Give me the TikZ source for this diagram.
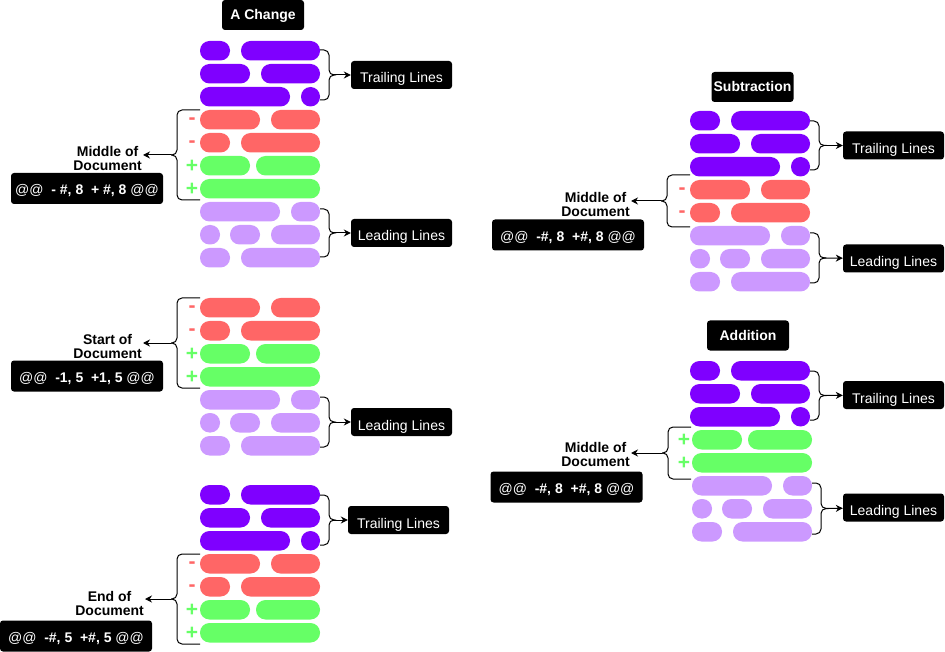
\documentclass[tikz,border=0pt]{standalone}
\usepackage{fontspec}
\setmainfont{Liberation Sans}
\usetikzlibrary{arrows.meta}
\definecolor{Trail}{HTML}{7F00FF}
\definecolor{Minus}{HTML}{FF6666}
\definecolor{Plus}{HTML}{66FF66}
\definecolor{Lead}{HTML}{CC99FF}
\tikzset{
  arr/.style={-{Stealth[length=7pt,width=7pt]},line width=1pt,draw=black},
  seg/.style={rounded corners=9.5pt},
  curl/.style={line width=1pt,rounded corners=5pt},
  titlebox/.style={fill=black,text=white,rounded corners=3pt,minimum width=82pt,minimum height=30pt,inner sep=0pt,text height=10pt,text depth=0pt,font=\fontsize{14}{14}\selectfont\bfseries},
  tagbox/.style={fill=black,text=white,rounded corners=3pt,minimum width=101pt,minimum height=28pt,inner sep=0pt,text height=16pt,text depth=0pt,font=\fontsize{14}{14}\selectfont},
  codebox/.style={fill=black,text=white,rounded corners=3pt,minimum width=152pt,minimum height=31pt,inner sep=0pt,text height=13pt,text depth=0pt,font=\fontsize{14}{14}\selectfont},
  where/.style={align=center,anchor=east,inner sep=1pt,font=\fontsize{14}{14}\selectfont\bfseries},
  sign/.style={inner sep=0pt,font=\fontsize{21}{21}\selectfont\bfseries}
}
\newcommand{\seg}[4]{\fill[seg,#1] (#2,#4) rectangle (#3,#4+19.5);}
\newcommand{\trailrows}[2]{%
  \seg{Trail}{#1}{#1+30}{#2}\seg{Trail}{#1+41}{#1+120}{#2}
  \seg{Trail}{#1}{#1+50}{#2+23}\seg{Trail}{#1+61}{#1+120}{#2+23}
  \seg{Trail}{#1}{#1+90}{#2+46}\seg{Trail}{#1+101}{#1+120}{#2+46}}
\newcommand{\minusrows}[3]{%
  \seg{Minus}{#2}{#2+60}{#3}\seg{Minus}{#2+71}{#2+120}{#3}
  \seg{Minus}{#2}{#2+30}{#3+23}\seg{Minus}{#2+41}{#2+120}{#3+23}
  \node[sign,text=Minus] (#1a) at (#2-8,#3+11) {-};
  \node[sign,text=Minus] (#1b) at (#2-8,#3+34) {-};}
\newcommand{\plusrows}[3]{%
  \seg{Plus}{#2}{#2+50}{#3}\seg{Plus}{#2+56}{#2+120}{#3}
  \seg{Plus}{#2}{#2+120}{#3+23}
  \node[sign,text=Plus] (#1a) at (#2-8,#3+10) {+};
  \node[sign,text=Plus] (#1b) at (#2-8,#3+33) {+};}
\newcommand{\leadrows}[2]{%
  \seg{Lead}{#1}{#1+80}{#2}\seg{Lead}{#1+91}{#1+120}{#2}
  \seg{Lead}{#1}{#1+20}{#2+23}\seg{Lead}{#1+30}{#1+60}{#2+23}\seg{Lead}{#1+71}{#1+120}{#2+23}
  \seg{Lead}{#1}{#1+30}{#2+46}\seg{Lead}{#1+41}{#1+120}{#2+46}}
\newcommand{\rightcurl}[4]{%
  \draw[curl] (#2,#3) -- (#2+9,#3) -- (#2+9,{(#3+#4)/2}) -- (#2+13,{(#3+#4)/2});
  \draw[curl] (#2,#4) -- (#2+9,#4) -- (#2+9,{(#3+#4)/2}) -- (#2+13,{(#3+#4)/2});
  \coordinate (#1) at (#2+13,{(#3+#4)/2});}
\newcommand{\leftcurl}[4]{%
  \draw[curl] (#2,#3) -- (#2-23,#3) -- (#2-23,{(#3+#4)/2}) -- (#2-29,{(#3+#4)/2});
  \draw[curl] (#2,#4) -- (#2-23,#4) -- (#2-23,{(#3+#4)/2}) -- (#2-29,{(#3+#4)/2});
  \coordinate (#1) at (#2-29,{(#3+#4)/2});}

\begin{document}
\begin{tikzpicture}[x=1pt,y=-1pt]
  \useasboundingbox (0,0) rectangle (945,652);

  \node[titlebox] (chg) at (263,15) {A Change};
  \trailrows{200}{41}
  \minusrows{chgm}{200}{110}
  \plusrows{chgp}{200}{156}
  \leadrows{200}{202}
  \rightcurl{chgtt}{320}{50}{100}
  \rightcurl{chglt}{320}{209}{257}
  \leftcurl{chgct}{200}{110}{200}
  \node[tagbox] (chgtrail) at (401.5,75) {Trailing Lines};
  \node[tagbox] (chglead) at (401.5,233) {Leading Lines};
  \node[where] (chgwhere) at (143,158) {Middle of\\Document};
  \node[codebox] (chgcode) at (87,188.5) {@@\ \ \textbf{- \#, 8\ \ + \#, 8} @@};
  \draw[arr] (chgtt) -- (chgtrail);
  \draw[arr] (chglt) -- (chglead);
  \draw[arr] (chgct) -- (chgwhere.east |- chgct);

  \minusrows{stm}{200}{298}
  \plusrows{stp}{200}{344}
  \leadrows{200}{390}
  \leftcurl{stct}{200}{298}{388}
  \rightcurl{stlt}{320}{397}{447}
  \node[tagbox] (stlead) at (401.5,422) {Leading Lines};
  \node[where] (stwhere) at (143,346) {Start of\\Document};
  \node[codebox] (stcode) at (87,376) {@@\ \ \textbf{-1, 5\ \ +1, 5} @@};
  \draw[arr] (stlt) -- (stlead);
  \draw[arr] (stct) -- (stwhere.east |- stct);

  \trailrows{200}{485}
  \minusrows{endm}{200}{554}
  \plusrows{endp}{200}{600}
  \rightcurl{endtt}{320}{495}{545}
  \leftcurl{endct}{200}{554}{644}
  \node[tagbox] (endtrail) at (398.5,520) {Trailing Lines};
  \node[where] (endwhere) at (145,603) {End of\\Document};
  \node[codebox] (endcode) at (76,636) {@@\ \ \textbf{-\#, 5\ \ +\#, 5} @@};
  \draw[arr] (endtt) -- (endtrail);
  \draw[arr] (endct) -- (endwhere.east |- endct);

  \node[titlebox] (sub) at (752.5,87) {Subtraction};
  \trailrows{690}{111}
  \minusrows{subm}{690}{180}
  \leadrows{690}{226}
  \rightcurl{subtt}{810}{121}{170}
  \rightcurl{sublt}{810}{233}{283}
  \leftcurl{subct}{690}{175}{227}
  \node[tagbox] (subtrail) at (893.5,145.5) {Trailing Lines};
  \node[tagbox] (sublead) at (893.5,258.5) {Leading Lines};
  \node[where] (subwhere) at (631,204) {Middle of\\Document};
  \node[codebox] (subcode) at (568,235) {@@\ \ \textbf{-\#, 8\ \ +\#, 8} @@};
  \draw[arr] (subtt) -- (subtrail);
  \draw[arr] (sublt) -- (sublead);
  \draw[arr] (subct) -- (subwhere.east |- subct);

  \node[titlebox] (add) at (748,335.5) {Addition};
  \trailrows{690}{361}
  \plusrows{addp}{692}{430}
  \leadrows{692}{476}
  \rightcurl{addtt}{810}{371}{420}
  \rightcurl{addlt}{812}{483}{534}
  \leftcurl{addct}{691}{427}{479}
  \node[tagbox] (addtrail) at (893.5,395) {Trailing Lines};
  \node[tagbox] (addlead) at (893.5,507.5) {Leading Lines};
  \node[where] (addwhere) at (631,454) {Middle of\\Document};
  \node[codebox] (addcode) at (566.5,487) {@@\ \ \textbf{-\#, 8\ \ +\#, 8} @@};
  \draw[arr] (addtt) -- (addtrail);
  \draw[arr] (addlt) -- (addlead);
  \draw[arr] (addct) -- (addwhere.east |- addct);
\end{tikzpicture}
\end{document}
